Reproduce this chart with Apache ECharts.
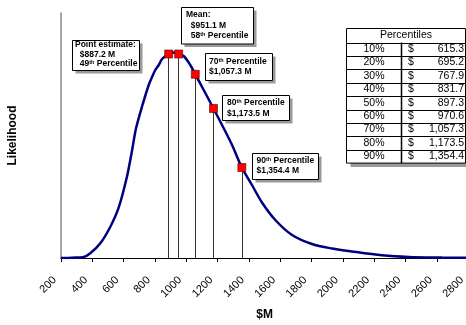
<!DOCTYPE html>
<html><head><meta charset="utf-8">
<script src="https://cdn.jsdelivr.net/npm/echarts@6/dist/echarts.min.js"></script>
<style>html,body{margin:0;padding:0;background:#fff}#c{width:466px;height:325px}</style>
</head><body><div id="c"></div>
<script>
// ---- data ----
const curveX = [200, 270, 345, 387, 451, 515, 568, 621, 653, 679, 717, 760, 781, 802, 824, 845, 887.2, 915, 951.1, 983, 1025, 1057.3, 1111, 1173.5, 1228, 1292, 1354.4, 1419, 1483, 1568, 1675, 1802, 1930, 2058, 2249, 2420, 2632, 2800];
const curveY = [0, 0.3, 1, 4.7, 14.7, 31.3, 50.3, 81.3, 107, 129.7, 151.3, 173, 181, 188, 193, 199, 204, 205.5, 204, 202, 193, 183.7, 168, 149.5, 133, 113, 90.5, 73, 55.5, 38, 23, 14, 9.5, 6.5, 2.7, 1, 0.4, 0.2];
const markerX = [887.2, 951.1, 1057.3, 1173.5, 1354.4];
const markerY = [204, 204, 183.7, 149.5, 90.5];
const xMin = 200, xMax = 2800, xStep = 200;
const pctLabels = ['10%', '20%', '30%', '40%', '50%', '60%', '70%', '80%', '90%'];
const pctValues = [615.3, 695.2, 767.9, 831.7, 897.3, 970.6, 1057.3, 1173.5, 1354.4];
const boxTexts = [
  ['{b|Point estimate:}', '{b|  $887.2 M}', '{b|  49}{s|th}{b| Percentile}'],
  ['{b|Mean:}', '{b|  $951.1 M}', '{b|  58}{s|th}{b| Percentile}'],
  ['{b|70}{s|th}{b| Percentile}', '{b|$1,057.3 M}'],
  ['{b|80}{s|th}{b| Percentile}', '{b|$1,173.5 M}'],
  ['{b|90}{s|th}{b| Percentile}', '{b|$1,354.4 M}']
];

const FONT = 'Liberation Sans, Arial, Helvetica, sans-serif';
const chart = echarts.init(document.getElementById('c'), null, {renderer: 'canvas'});

const rich = {
  b: {fontFamily: FONT, fontWeight: 'bold', fontSize: 8.5, color: '#000'},
  s: {fontFamily: FONT, fontWeight: 'bold', fontSize: 5.5, color: '#000', verticalAlign: 'top', padding: [0, 0, 3, 0]}
};

// layout of annotation boxes (pixels)
const boxLayout = [
  {x: 72.5, y: 40.5, w: 67, h: 30, tx: 75, ty: [45, 54.5, 64]},
  {x: 181.5, y: 7.5, w: 72, h: 36.5, tx: 186, ty: [15, 25.5, 36]},
  {x: 205.5, y: 53.5, w: 67, h: 27, tx: 209, ty: [62, 72]},
  {x: 222.5, y: 95.5, w: 67, h: 25, tx: 227, ty: [103, 113.5]},
  {x: 252.5, y: 153.5, w: 66, h: 26, tx: 256.5, ty: [160.5, 170.5]}
];

const graphics = [];
boxLayout.forEach((bl, i) => {
  graphics.push({type: 'rect', z: 50, shape: {x: bl.x + 3, y: bl.y + 3, width: bl.w, height: bl.h}, style: {fill: '#9a9a9a'}});
  graphics.push({type: 'rect', z: 51, shape: {x: bl.x, y: bl.y, width: bl.w, height: bl.h}, style: {fill: '#fff', stroke: '#000', lineWidth: 1}});
  boxTexts[i].forEach((t, j) => {
    graphics.push({type: 'text', z: 52, x: bl.tx, y: bl.ty[j], style: {text: t, rich: rich, align: 'left', verticalAlign: 'middle', textAlign: 'left', textVerticalAlign: 'middle'}});
  });
});

// table
const T = {x0: 346.5, x1: 465.5, xm: 401.5, y0: 28.5, hh: 14, rh: 13.4};
const tBottom = T.y0 + T.hh + T.rh * pctLabels.length;
graphics.push({type: 'rect', z: 50, shape: {x: T.x0 + 4, y: T.y0 + 4, width: T.x1 - T.x0, height: tBottom - T.y0}, style: {fill: '#9a9a9a'}});
graphics.push({type: 'rect', z: 51, shape: {x: T.x0, y: T.y0, width: T.x1 - T.x0, height: tBottom - T.y0}, style: {fill: '#fff', stroke: '#000', lineWidth: 1}});
graphics.push({type: 'line', z: 52, shape: {x1: T.xm, y1: T.y0 + T.hh, x2: T.xm, y2: tBottom}, style: {stroke: '#000', lineWidth: 1.5}});
graphics.push({type: 'text', z: 53, x: (T.x0 + T.x1) / 2, y: T.y0 + T.hh / 2, style: {text: 'Percentiles', font: '10.5px ' + FONT, fill: '#000', align: 'center', verticalAlign: 'middle', textAlign: 'center', textVerticalAlign: 'middle'}});
pctLabels.forEach((lab, i) => {
  const yTop = T.y0 + T.hh + T.rh * i;
  graphics.push({type: 'line', z: 52, shape: {x1: T.x0, y1: Math.round(yTop) + 0.5, x2: T.x1, y2: Math.round(yTop) + 0.5}, style: {stroke: '#000', lineWidth: 1}});
  const yc = yTop + T.rh / 2;
  graphics.push({type: 'text', z: 53, x: (T.x0 + T.xm) / 2, y: yc, style: {text: lab, font: '10.5px ' + FONT, fill: '#000', align: 'center', verticalAlign: 'middle', textAlign: 'center', textVerticalAlign: 'middle'}});
  graphics.push({type: 'text', z: 53, x: 408, y: yc, style: {text: '$', font: '10.5px ' + FONT, fill: '#000', align: 'left', verticalAlign: 'middle', textAlign: 'left', textVerticalAlign: 'middle'}});
  const numStr = pctValues[i].toLocaleString('en-US', {minimumFractionDigits: 1, maximumFractionDigits: 1});
  graphics.push({type: 'text', z: 53, x: 464, y: yc, style: {text: numStr, font: '10.5px ' + FONT, fill: '#000', align: 'right', verticalAlign: 'middle', textAlign: 'right', textVerticalAlign: 'middle'}});
});

const curveData = curveX.map((x, i) => [x, curveY[i]]);
const markerData = markerX.map((x, i) => [x, markerY[i]]);
const dropLines = markerX.map((x, i) => [{coord: [x, 0]}, {coord: [x, markerY[i]]}]);

chart.setOption({
  animation: false,
  backgroundColor: '#fff',
  grid: {left: 61, top: 13, bottom: 67, right: -2.3, containLabel: false, outerBoundsMode: 'none'},
  xAxis: {
    type: 'value', min: xMin, max: xMax, interval: xStep,
    name: '$M', nameLocation: 'middle', nameGap: 51,
    nameTextStyle: {fontFamily: FONT, fontWeight: 'bold', fontSize: 12, color: '#000'},
    axisLine: {show: true, onZero: false, lineStyle: {color: '#000', width: 1}},
    axisTick: {show: true, inside: false, length: 4, lineStyle: {color: '#000'}},
    axisLabel: {rotate: 45, fontFamily: FONT, fontSize: 11, color: '#000', margin: 14, padding: [0, 9, 0, 0],
      showMinLabel: true, showMaxLabel: true, hideOverlap: false, formatter: v => String(v)},
    splitLine: {show: false}
  },
  yAxis: {
    type: 'value', min: 0, max: 245,
    name: 'Likelihood', nameLocation: 'middle', nameGap: 42, nameRotate: 90,
    nameTextStyle: {fontFamily: FONT, fontWeight: 'bold', fontSize: 12, color: '#000'},
    axisLine: {show: true, lineStyle: {color: '#8a8a8a', width: 1.5}},
    axisTick: {show: false}, axisLabel: {show: false}, splitLine: {show: false}
  },
  series: [
    {type: 'line', data: curveData, smooth: 0.3, showSymbol: false, symbol: 'none', z: 3,
     lineStyle: {color: '#000080', width: 2.5}},
    {type: 'scatter', data: markerData, symbol: 'rect', symbolSize: 8, z: 5,
     itemStyle: {color: '#ff0000', borderColor: '#5a0000', borderWidth: 0.6, opacity: 1},
     markLine: {silent: true, symbol: ['none', 'none'], label: {show: false}, z: 2,
       lineStyle: {color: '#333', width: 1, type: 'solid'}, data: dropLines}}
  ],
  graphic: graphics
});
</script></body></html>
